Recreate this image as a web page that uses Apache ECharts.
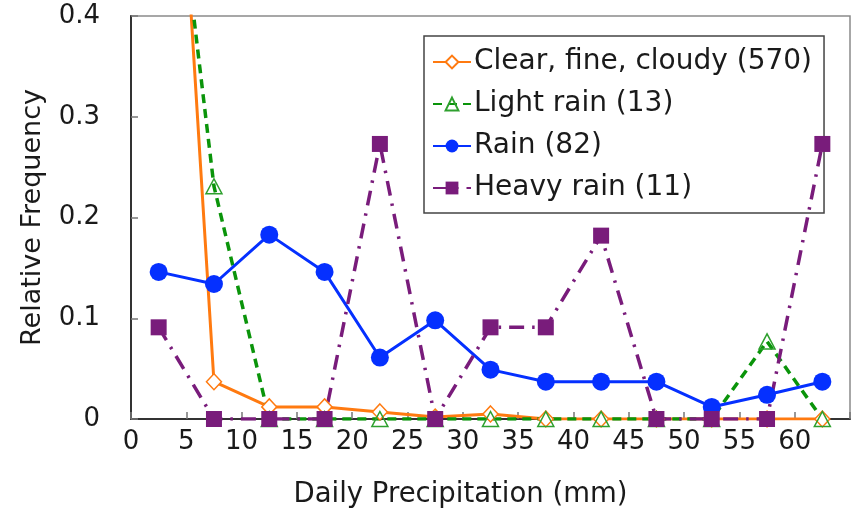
<!DOCTYPE html>
<html>
<head>
<meta charset="utf-8">
<script src="https://cdn.jsdelivr.net/npm/echarts@6/dist/echarts.min.js"></script>
<style>html,body{margin:0;padding:0;background:#fff;}#c{width:854px;height:520px;}</style>
</head>
<body>
<div id="c"></div>
<script>
var binCenters = [2.5, 7.5, 12.5, 17.5, 22.5, 27.5, 32.5, 37.5, 42.5, 47.5, 52.5, 57.5, 62.5];
var seriesNames = ['Clear, fine, cloudy (570)', 'Light rain (13)', 'Rain (82)', 'Heavy rain (11)'];
var clearVals = [0.92, 0.037, 0.012, 0.012, 0.007, 0.002, 0.005, 0, 0, 0, 0, 0, 0];
var lightVals = [0.692, 0.231, 0, 0, 0, 0, 0, 0, 0, 0, 0, 0.077, 0];
var rainVals = [0.146, 0.134, 0.183, 0.146, 0.061, 0.098, 0.049, 0.037, 0.037, 0.037, 0.012, 0.024, 0.037];
var heavyVals = [0.091, 0, 0, 0, 0.273, 0, 0.091, 0.091, 0.182, 0, 0, 0, 0.273];
var xTicks = [0, 5, 10, 15, 20, 25, 30, 35, 40, 45, 50, 55, 60];
var yTicks = [0, 0.1, 0.2, 0.3, 0.4];

function pairs(vals) { return binCenters.map(function (x, i) { return [x, vals[i]]; }); }

var FONT = 'DejaVu Sans';
var TXT = '#1a1a1a';
var chart = echarts.init(document.getElementById('c'), null, {renderer: 'canvas'});
chart.setOption({
  animation: false,
  backgroundColor: '#fff',
  textStyle: {fontFamily: FONT},
  grid: {left: 131, right: 4, top: 16, bottom: 101, show: true, borderColor: '#8a8a8a', borderWidth: 1.5, backgroundColor: 'transparent'},
  legend: {
    left: 424, top: 36, z: 1,
    orient: 'vertical',
    backgroundColor: '#fff',
    borderColor: '#444', borderWidth: 1.5,
    padding: [12, 12, 11, 8],
    itemWidth: 38, itemHeight: 16, itemGap: 14,
    textStyle: {fontFamily: FONT, fontSize: 28, lineHeight: 28, color: TXT, padding: [0, 0, 0, -2]},
    data: seriesNames
  },
  xAxis: {
    type: 'value', min: 0, max: 65, interval: 5,
    name: 'Daily Precipitation (mm)', nameLocation: 'middle', nameGap: 62,
    nameTextStyle: {fontFamily: FONT, fontSize: 27.5, color: TXT, padding: [0, 60, 0, 0]},
    axisLine: {onZero: false, lineStyle: {color: '#333', width: 2}},
    axisTick: {inside: true, length: 7, lineStyle: {color: '#777', width: 1.5}},
    axisLabel: {fontFamily: FONT, fontSize: 26, color: TXT, margin: 10,
      formatter: function (v) { return xTicks.indexOf(v) >= 0 ? String(v) : ''; }},
    splitLine: {show: false}
  },
  yAxis: {
    type: 'value', min: 0, max: 0.4, interval: 0.1,
    name: 'Relative Frequency', nameLocation: 'middle', nameGap: 85, nameRotate: 90,
    nameTextStyle: {fontFamily: FONT, fontSize: 27, color: TXT},
    axisLine: {show: true, lineStyle: {color: '#333', width: 2}},
    axisTick: {show: true, inside: true, length: 7, lineStyle: {color: '#777', width: 1.5}},
    axisLabel: {fontFamily: FONT, fontSize: 26, color: TXT, margin: 31,
      formatter: function (v) {
        for (var i = 0; i < yTicks.length; i++) { if (Math.abs(v - yTicks[i]) < 1e-9) return v === 0 ? '0' : yTicks[i].toFixed(1); }
        return '';
      }},
    splitLine: {show: false}
  },
  series: [
    {
      name: seriesNames[0], type: 'line', data: pairs(clearVals), clip: true, z: 3,
      symbol: 'diamond', symbolSize: [15, 16],
      itemStyle: {color: '#fff', borderColor: '#ff7a10', borderWidth: 1.5},
      lineStyle: {color: '#ff7a10', width: 3},
      color: '#ff7a10'
    },
    {
      name: seriesNames[1], type: 'line', data: pairs(lightVals), clip: true, z: 3,
      symbol: 'triangle', symbolSize: [16, 15],
      itemStyle: {color: 'rgba(255,255,255,0)', borderColor: '#2ea02e', borderWidth: 1.5},
      lineStyle: {color: '#0a940a', width: 3.5, type: [9, 6]},
      color: '#0a940a'
    },
    {
      name: seriesNames[2], type: 'line', data: pairs(rainVals), clip: true, z: 3,
      symbol: 'circle', symbolSize: 18,
      itemStyle: {color: '#0530ff'},
      lineStyle: {color: '#0530ff', width: 3},
      color: '#0530ff'
    },
    {
      name: seriesNames[3], type: 'line', data: pairs(heavyVals), clip: true, z: 3,
      symbol: 'rect', symbolSize: 16,
      itemStyle: {color: '#791c7b'},
      lineStyle: {color: '#791c7b', width: 3.5, type: [15, 8, 2.5, 8]},
      color: '#791c7b'
    }
  ]
});
</script>
</body>
</html>
